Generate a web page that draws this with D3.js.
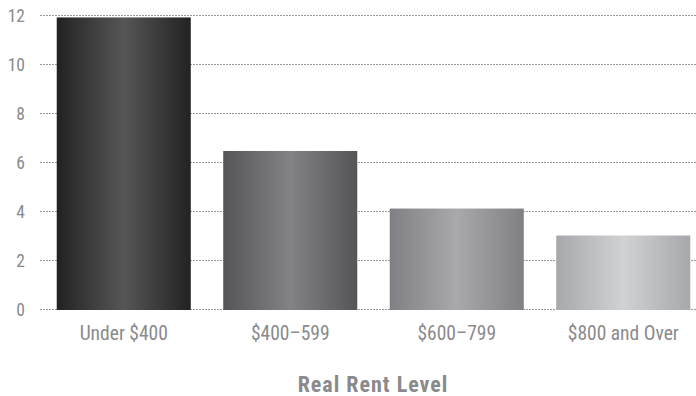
<!DOCTYPE html>
<html><head><meta charset="utf-8">
<script src="https://cdn.jsdelivr.net/npm/d3@7"></script>
<style>
body{margin:0;background:#fff;}
text{font-family:"Liberation Sans Narrow","Roboto Condensed","Arial Narrow",sans-serif;}
</style></head>
<body><svg id="c" width="696" height="396"></svg>
<script>
const categories = ["Under $400", "$400\u2013599", "$600\u2013799", "$800 and Over"];
const values = [11.9, 6.45, 4.1, 3.0];
const yTicks = [0, 2, 4, 6, 8, 10, 12];
const axisTitle = "Real Rent Level";
const gradStops = [["#222222","#565657"],["#555557","#838385"],["#808084","#a9a9ac"],["#a7a8ab","#d1d2d4"]];

const svg = d3.select("#c");
const y = d3.scaleLinear().domain([0, 12]).range([309, 15]);
const x = d3.scaleBand().domain(categories).range([40.5, 706.5]).paddingInner(0.195).paddingOuter(0.0975);

const defs = svg.append("defs");
gradStops.forEach((s, i) => {
  const g = defs.append("linearGradient").attr("id", "g" + i).attr("x1", "0").attr("x2", "1").attr("y1", "0").attr("y2", "0");
  g.append("stop").attr("offset", "0").attr("stop-color", s[0]);
  g.append("stop").attr("offset", "0.5").attr("stop-color", s[1]);
  g.append("stop").attr("offset", "1").attr("stop-color", s[0]);
});

// gridlines
svg.append("g").selectAll("line").data(yTicks).join("line")
  .attr("x1", 40).attr("x2", 696)
  .attr("y1", d => Math.round(y(d)) + 0.5).attr("y2", d => Math.round(y(d)) + 0.5)
  .attr("stroke", "#9a9a9a").attr("stroke-width", 1).attr("stroke-dasharray", "2,1");

// y labels
svg.append("g").selectAll("text").data(yTicks).join("text")
  .attr("x", 25).attr("y", d => y(d) + 6.5)
  .attr("text-anchor", "end").attr("font-size", 17.5).attr("fill", "#8a8a8c")
  .text(d => d);

// bars
svg.append("g").selectAll("rect").data(values).join("rect")
  .attr("x", (d, i) => x(categories[i]))
  .attr("width", x.bandwidth())
  .attr("y", d => y(d))
  .attr("height", d => y(0) - y(d) + 1)
  .attr("fill", (d, i) => "url(#g" + i + ")");

// x labels
svg.append("g").selectAll("text").data(categories).join("text")
  .attr("x", d => x(d) + x.bandwidth() / 2).attr("y", 340)
  .attr("text-anchor", "middle").attr("font-size", 19.5).attr("fill", "#8a8a8c")
  .text(d => d);

svg.append("text").attr("x", 373).attr("y", 392).attr("text-anchor", "middle")
  .attr("font-size", 22).attr("letter-spacing", 1).attr("font-weight", "bold").attr("fill", "#8a8a8c").text(axisTitle);
</script></body></html>
